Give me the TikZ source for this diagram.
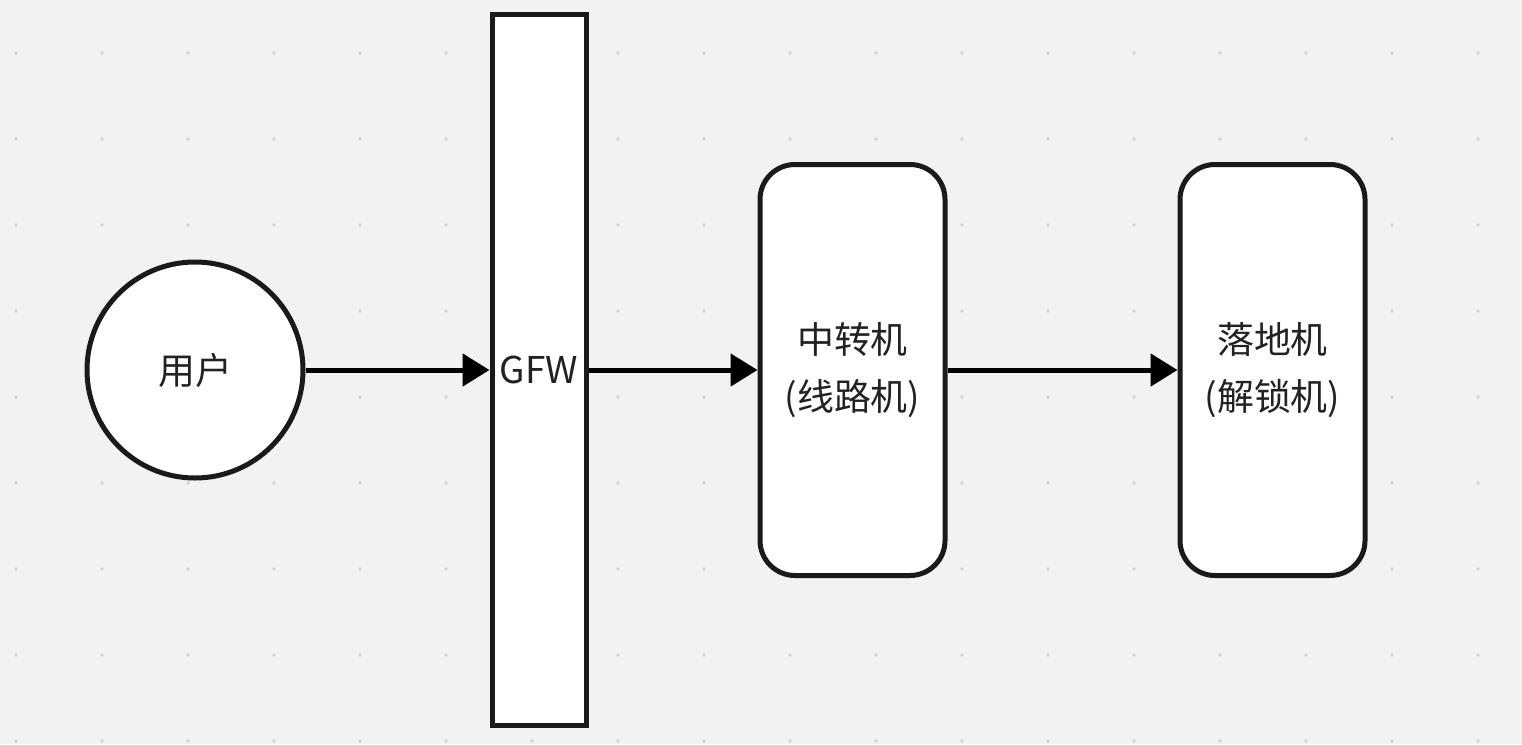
\documentclass[tikz,border=0pt]{standalone}
\usepackage{fontspec}
\setmainfont{Noto Sans CJK SC}
\usepackage{xcolor}
\usepackage{tikz}
\usetikzlibrary{arrows.meta,positioning,shapes.geometric}
\definecolor{boardbg}{HTML}{F2F2F4}
\definecolor{boarddot}{HTML}{D2D2D6}
\definecolor{lineink}{HTML}{1A1A1A}
\definecolor{textink}{HTML}{222222}

\begin{document}
\begin{tikzpicture}[
  every node/.style={font=\fontsize{10.5pt}{16pt}\selectfont,text=textink},
  client/.style={circle,draw=lineink,fill=white,line width=0.05cm,minimum size=2.16cm,inner sep=0pt},
  wall/.style={draw=lineink,fill=white,line width=0.05cm,minimum width=0.94cm,minimum height=7.11cm,inner sep=0pt},
  server/.style={draw=lineink,fill=white,line width=0.05cm,rounded corners=0.35cm,minimum width=1.85cm,minimum height=4.11cm,align=center,inner sep=0pt},
  arrow/.style={-{Triangle[length=0.27cm,width=0.32cm]},line width=0.05cm,draw=black}
]
\useasboundingbox (0,0) rectangle (15.22,7.44);
\fill[boardbg] (0,0) rectangle (15.22,7.44);
\foreach \i in {0,...,17}
  \foreach \j in {0,...,8}
    \fill[boarddot] (0.16+0.86*\i,6.91-0.86*\j) circle (0.018);

\node[client] (user) at (1.95,3.74) {用户};
\node[wall,right=1.84cm of user] (gfw) {GFW};
\node[server,right=1.69cm of gfw] (relay) {中转机\\(线路机)};
\node[server,right=2.30cm of relay] (exit) {落地机\\(解锁机)};

\draw[arrow] (user) -- (gfw);
\draw[arrow] (gfw) -- (relay);
\draw[arrow] (relay) -- (exit);
\end{tikzpicture}
\end{document}
